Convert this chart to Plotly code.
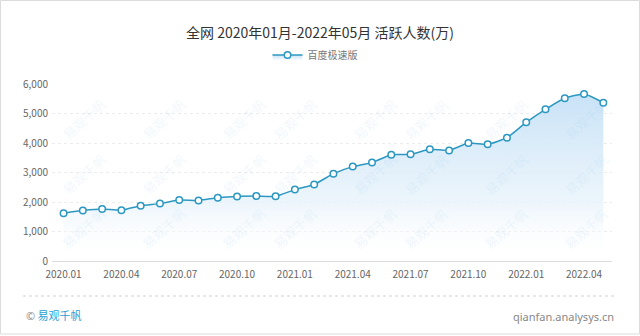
import plotly.graph_objects as go

months = ["2020.01","2020.02","2020.03","2020.04","2020.05","2020.06","2020.07","2020.08",
          "2020.09","2020.10","2020.11","2020.12","2021.01","2021.02","2021.03","2021.04",
          "2021.05","2021.06","2021.07","2021.08","2021.09","2021.10","2021.11","2021.12",
          "2022.01","2022.02","2022.03","2022.04","2022.05"]
active_users = [1620, 1710, 1760, 1720, 1875, 1945, 2065, 2055, 2145, 2190, 2200, 2195,
                2420, 2595, 2960, 3200, 3335, 3605, 3615, 3785, 3750, 4000, 3955, 4180,
                4700, 5140, 5515, 5660, 5365]
series_name = "百度极速版"
title_text = "全网 2020年01月-2022年05月 活跃人数(万)"
x_tick_labels = months[::3]
y_ticks = [0, 1000, 2000, 3000, 4000, 5000, 6000]

W, H = 640, 336
L, R, T, B = 52, 612, 84, 261  # plot area pixel bounds


def px(xp):
    return (xp - L) / (R - L)


def py(yp):
    return (B - yp) / (B - T)


LINE = "#2c98c2"
CJK = "Noto Sans CJK SC, Noto Sans, sans-serif"

fig = go.Figure()
fig.add_trace(go.Scatter(
    x=months, y=active_users, name=series_name,
    mode="lines+markers",
    line=dict(color=LINE, width=1.5, shape="spline", smoothing=0.5),
    marker=dict(size=6.5, color="white", line=dict(color=LINE, width=1.5)),
    fill="tozeroy",
    fillgradient=dict(type="vertical", start=0, stop=max(active_users),
                      colorscale=[[0, "rgba(255,255,255,0.0)"],
                                  [0.35, "rgba(232,243,251,0.8)"],
                                  [1, "rgba(198,225,246,0.95)"]]),
    showlegend=True,
))

annotations = []
# watermarks
for yy in (92, 174, 256):
    for k in range(8):
        xx = 55 + 80 * k
        annotations.append(dict(
            x=px(xx), y=py(yy), xref="paper", yref="paper", text="易观千帆",
            showarrow=False, textangle=-42,
            font=dict(family=CJK, size=13, color="rgba(120,185,230,0.12)")))

annotations += [
    dict(x=px(24), y=py(315), xref="paper", yref="paper", xanchor="left", yanchor="middle",
         text="<span style='color:#888'>©</span> 易观千帆", showarrow=False,
         font=dict(family=CJK, size=11, color="#2a9fd6")),
    dict(x=px(616), y=py(316), xref="paper", yref="paper", xanchor="right", yanchor="middle",
         text="qianfan.analysys.cn", showarrow=False,
         font=dict(family="Noto Sans, sans-serif", size=11, color="#888")),
]

shapes = [
    dict(type="line", xref="paper", yref="paper", x0=px(23), x1=px(617), y0=py(296), y1=py(296),
         line=dict(color="#cfcfcf", width=1, dash="dot")),
    dict(type="rect", xref="paper", yref="paper", x0=px(0.5), x1=px(639.5), y0=py(334), y1=py(0.5),
         line=dict(color="#dcdcdc", width=1), fillcolor="rgba(0,0,0,0)", layer="below"),
]

fig.update_layout(
    width=W, height=H,
    margin=dict(l=L, r=W - R, t=T, b=H - B),
    paper_bgcolor="white", plot_bgcolor="white",
    font=dict(family=CJK, color="#666"),
    title=dict(text=title_text, x=0.5, xref="container", xanchor="center",
               y=1 - 33 / H, yref="container", yanchor="middle",
               font=dict(family=CJK, size=14, color="#333")),
    legend=dict(orientation="h", x=px(315), xanchor="center", y=py(55), yanchor="middle",
                font=dict(family=CJK, size=10, color="#777"), itemwidth=30,
                bgcolor="rgba(0,0,0,0)"),
    xaxis=dict(type="category", range=[-0.6, 28.45], tickmode="array",
               tickvals=x_tick_labels, ticktext=x_tick_labels, showgrid=False,
               showline=True, linecolor="#dedede", linewidth=1, ticks="",
               tickfont=dict(size=10, color="#666"), ticklabelstandoff=4,
               zeroline=False),
    yaxis=dict(range=[0, 6000], tickvals=y_ticks, tickformat=",d",
               showgrid=True, gridcolor="#ececec", griddash="dot", gridwidth=1,
               zeroline=False, showline=False, ticks="",
               tickfont=dict(size=10, color="#666"), ticklabelstandoff=3),
    annotations=annotations, shapes=shapes,
)

fig.write_html("out.html")
